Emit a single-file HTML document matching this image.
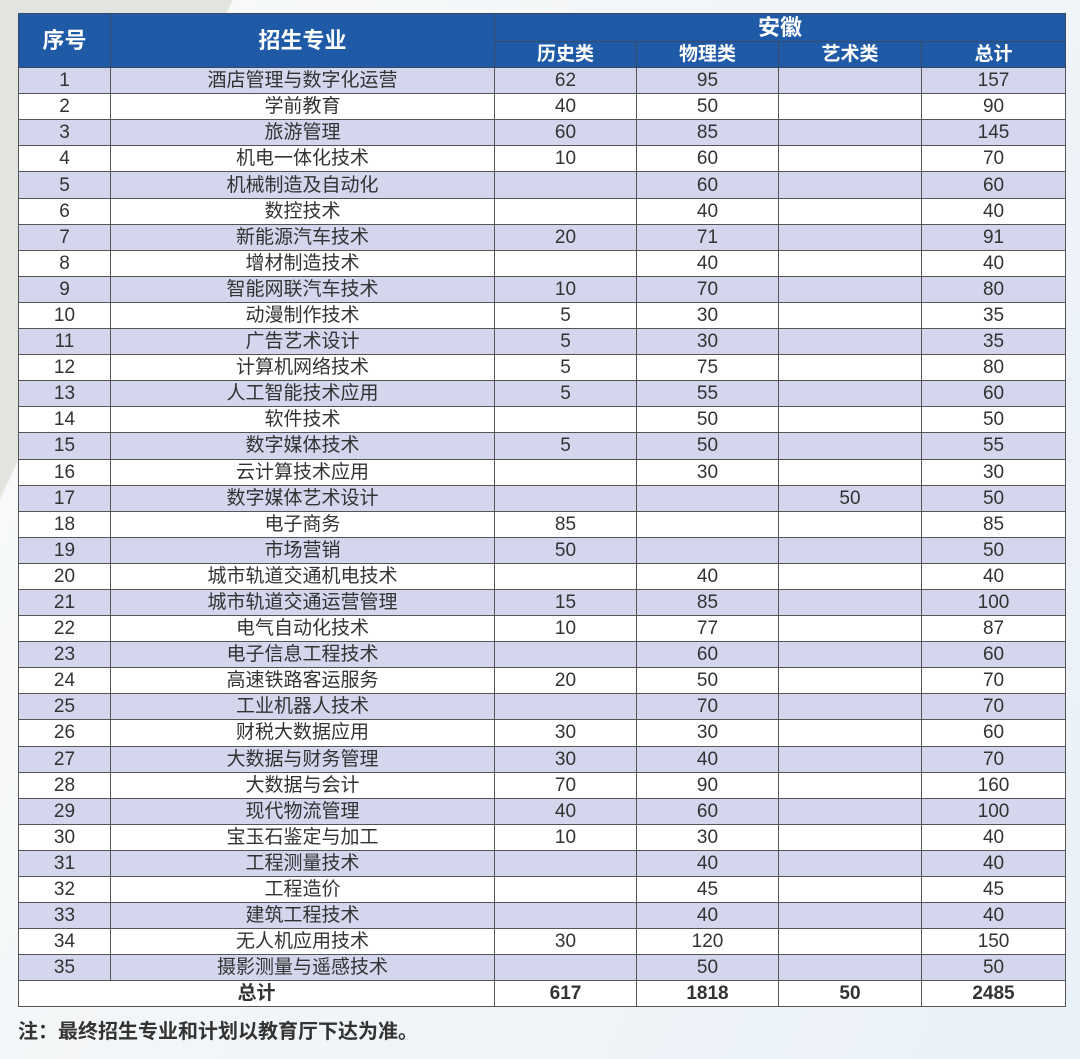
<!DOCTYPE html>
<html><head><meta charset="utf-8"><style>
html,body{margin:0;padding:0}
body{width:1080px;height:1059px;overflow:hidden;position:relative;background:#eef3f8;font-family:"Liberation Sans","Noto Sans CJK SC",sans-serif}
.bgl{position:absolute;left:0;top:0;width:1080px;height:1059px;background:linear-gradient(115deg,#e2e5df 0,#e2e5df 210px,#f7f9fa 212px,#f3f6f8 560px,#e9f1f8 100%)}
table{position:absolute;left:18px;top:13px;width:1047px;border-collapse:collapse;table-layout:fixed}
td,th{border:1.5px solid #555;padding:0;text-align:center;color:#333;font-size:19px;height:25.1px;line-height:25px;overflow:hidden;white-space:nowrap}
th{background:#1f5aa6;color:#fff;font-weight:bold;border-color:#3a4a66}
tr.o td{background:#d3d6ec}
tr.e td{background:#fff}
.tot td{font-weight:bold;background:#fff}
.note{position:absolute;left:18px;top:1015px;font-size:20px;font-weight:bold;color:#333}
</style></head><body><div class="bgl"></div>
<table>
<colgroup><col style="width:92px"><col style="width:384px"><col style="width:142px"><col style="width:142px"><col style="width:143px"><col style="width:144px"></colgroup>
<tr><th rowspan="2" style="font-size:22px;height:52px">序号</th><th rowspan="2" style="font-size:22px">招生专业</th><th colspan="4" style="font-size:22px;height:27px;line-height:27px">安徽</th></tr>
<tr><th style="height:24px;line-height:24px">历史类</th><th>物理类</th><th>艺术类</th><th>总计</th></tr>
<tr class="o"><td>1</td><td>酒店管理与数字化运营</td><td>62</td><td>95</td><td></td><td>157</td></tr>
<tr class="e"><td>2</td><td>学前教育</td><td>40</td><td>50</td><td></td><td>90</td></tr>
<tr class="o"><td>3</td><td>旅游管理</td><td>60</td><td>85</td><td></td><td>145</td></tr>
<tr class="e"><td>4</td><td>机电一体化技术</td><td>10</td><td>60</td><td></td><td>70</td></tr>
<tr class="o"><td>5</td><td>机械制造及自动化</td><td></td><td>60</td><td></td><td>60</td></tr>
<tr class="e"><td>6</td><td>数控技术</td><td></td><td>40</td><td></td><td>40</td></tr>
<tr class="o"><td>7</td><td>新能源汽车技术</td><td>20</td><td>71</td><td></td><td>91</td></tr>
<tr class="e"><td>8</td><td>增材制造技术</td><td></td><td>40</td><td></td><td>40</td></tr>
<tr class="o"><td>9</td><td>智能网联汽车技术</td><td>10</td><td>70</td><td></td><td>80</td></tr>
<tr class="e"><td>10</td><td>动漫制作技术</td><td>5</td><td>30</td><td></td><td>35</td></tr>
<tr class="o"><td>11</td><td>广告艺术设计</td><td>5</td><td>30</td><td></td><td>35</td></tr>
<tr class="e"><td>12</td><td>计算机网络技术</td><td>5</td><td>75</td><td></td><td>80</td></tr>
<tr class="o"><td>13</td><td>人工智能技术应用</td><td>5</td><td>55</td><td></td><td>60</td></tr>
<tr class="e"><td>14</td><td>软件技术</td><td></td><td>50</td><td></td><td>50</td></tr>
<tr class="o"><td>15</td><td>数字媒体技术</td><td>5</td><td>50</td><td></td><td>55</td></tr>
<tr class="e"><td>16</td><td>云计算技术应用</td><td></td><td>30</td><td></td><td>30</td></tr>
<tr class="o"><td>17</td><td>数字媒体艺术设计</td><td></td><td></td><td>50</td><td>50</td></tr>
<tr class="e"><td>18</td><td>电子商务</td><td>85</td><td></td><td></td><td>85</td></tr>
<tr class="o"><td>19</td><td>市场营销</td><td>50</td><td></td><td></td><td>50</td></tr>
<tr class="e"><td>20</td><td>城市轨道交通机电技术</td><td></td><td>40</td><td></td><td>40</td></tr>
<tr class="o"><td>21</td><td>城市轨道交通运营管理</td><td>15</td><td>85</td><td></td><td>100</td></tr>
<tr class="e"><td>22</td><td>电气自动化技术</td><td>10</td><td>77</td><td></td><td>87</td></tr>
<tr class="o"><td>23</td><td>电子信息工程技术</td><td></td><td>60</td><td></td><td>60</td></tr>
<tr class="e"><td>24</td><td>高速铁路客运服务</td><td>20</td><td>50</td><td></td><td>70</td></tr>
<tr class="o"><td>25</td><td>工业机器人技术</td><td></td><td>70</td><td></td><td>70</td></tr>
<tr class="e"><td>26</td><td>财税大数据应用</td><td>30</td><td>30</td><td></td><td>60</td></tr>
<tr class="o"><td>27</td><td>大数据与财务管理</td><td>30</td><td>40</td><td></td><td>70</td></tr>
<tr class="e"><td>28</td><td>大数据与会计</td><td>70</td><td>90</td><td></td><td>160</td></tr>
<tr class="o"><td>29</td><td>现代物流管理</td><td>40</td><td>60</td><td></td><td>100</td></tr>
<tr class="e"><td>30</td><td>宝玉石鉴定与加工</td><td>10</td><td>30</td><td></td><td>40</td></tr>
<tr class="o"><td>31</td><td>工程测量技术</td><td></td><td>40</td><td></td><td>40</td></tr>
<tr class="e"><td>32</td><td>工程造价</td><td></td><td>45</td><td></td><td>45</td></tr>
<tr class="o"><td>33</td><td>建筑工程技术</td><td></td><td>40</td><td></td><td>40</td></tr>
<tr class="e"><td>34</td><td>无人机应用技术</td><td>30</td><td>120</td><td></td><td>150</td></tr>
<tr class="o"><td>35</td><td>摄影测量与遥感技术</td><td></td><td>50</td><td></td><td>50</td></tr>
<tr class="tot"><td colspan="2">总计</td><td>617</td><td>1818</td><td>50</td><td>2485</td></tr>
</table>
<div class="note">注：最终招生专业和计划以教育厅下达为准。</div>
</body></html>
